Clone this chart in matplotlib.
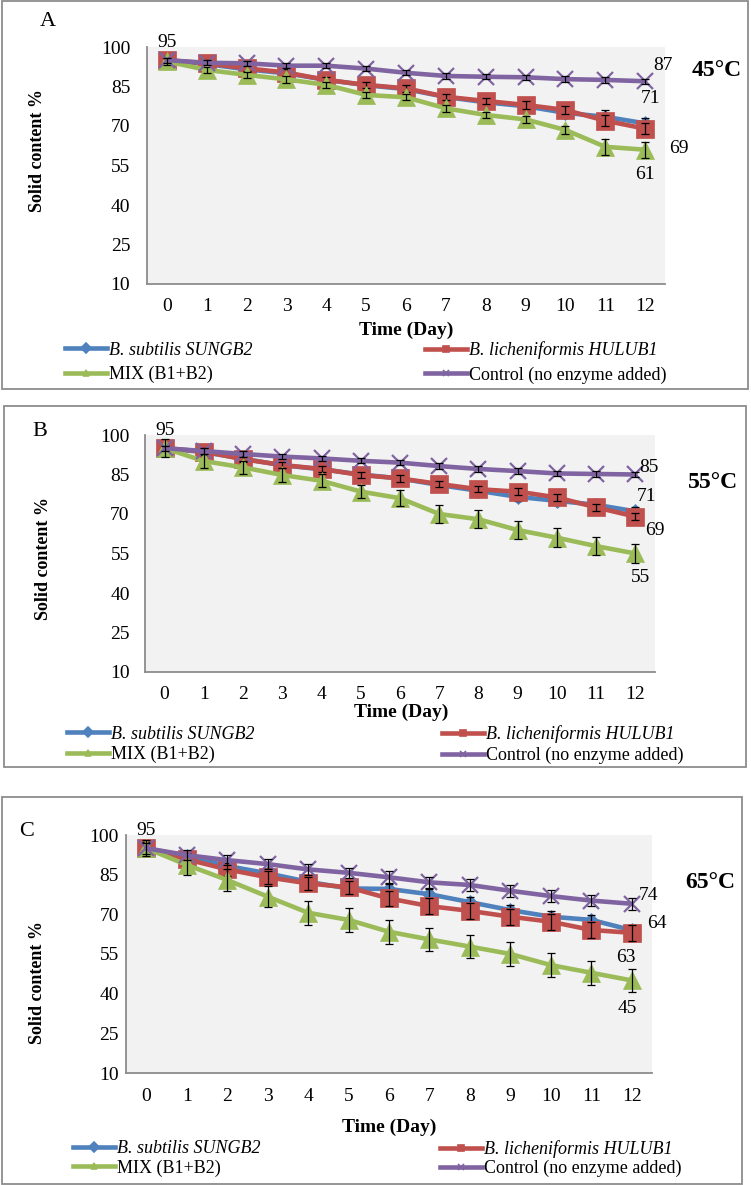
import matplotlib
matplotlib.use('Agg')
import matplotlib.pyplot as plt
from matplotlib.lines import Line2D
from matplotlib.patches import Rectangle

plt.rcParams['font.family'] = ['Liberation Serif', 'DejaVu Serif']

# ---- data ----
days = [0, 1, 2, 3, 4, 5, 6, 7, 8, 9, 10, 11, 12]
day_labels = [str(d) for d in days]
yticks = [10, 25, 40, 55, 70, 85, 100]
names = ['B. subtilis SUNGB2', 'B. licheniformis HULUB1', 'MIX (B1+B2)', 'Control (no enzyme added)']
temps = ['45°C', '55°C', '65°C']
letters = ['A', 'B', 'C']

subtilis_45 = [95, 93.5, 91.5, 90, 87.5, 85.5, 84, 81, 79, 77.5, 75, 73.5, 71]
lichen_45 = [95, 93.8, 91.9, 90.3, 87.5, 85.6, 84.3, 81.1, 79.5, 78, 76.1, 72, 69]
mix_45 = [94.5, 91.3, 89.4, 87.7, 85.6, 81.8, 80.9, 76.7, 74.2, 72.5, 68.5, 62.1, 61]
control_45 = [95, 94, 93.8, 92.9, 92.9, 91.8, 90.2, 89, 88.7, 88.5, 87.8, 87.5, 87]

subtilis_55 = [95, 93.5, 91, 88.5, 87, 85, 83.5, 81, 78.8, 76.5, 75, 73.5, 71]
lichen_55 = [95, 93.7, 90.8, 88.6, 87.1, 84.8, 83.5, 81.4, 79.4, 78.5, 76.3, 72.5, 69]
mix_55 = [95, 90.1, 87.7, 84.8, 82.6, 78.5, 76, 70, 68, 63.9, 61, 57.8, 55]
control_55 = [95, 93.9, 92.8, 91.8, 91.1, 90.2, 89.5, 88.2, 87.1, 86.3, 85.4, 85.2, 85]

subtilis_65 = [95, 92, 88.3, 85.5, 82.3, 79.8, 79.6, 77.6, 74.6, 71.6, 69.1, 67.9, 64]
lichen_65 = [95, 90.8, 87, 84, 81.7, 80.2, 76, 73.1, 71.3, 69.1, 67.2, 64.1, 63]
mix_65 = [95, 88.7, 83, 76.7, 70.6, 67.9, 63.4, 60.5, 57.8, 55, 50.8, 47.9, 45]
control_65 = [95, 92.4, 90.5, 89, 87, 85.7, 84, 82.1, 81.1, 78.9, 76.9, 75.2, 74]

err_subtilis_45 = [1.5, 1.2, 1.2, 1.2, 1.2, 1.2, 1.2, 1.5, 1.5, 1.5, 2, 2.5, 2]
err_lichen_45 = [1.5, 1.2, 1.2, 1.2, 1.2, 1.2, 1.2, 1.2, 1.2, 1.5, 1.5, 2, 2]
err_mix_45 = [1.5, 1.2, 1.2, 1.2, 1.2, 1.2, 1.2, 1.2, 1.2, 1.2, 1.5, 3, 3]
err_control_45 = [1, 1, 1, 1, 1, 1, 1, 1, 1, 1, 1, 1, 1]

err_subtilis_55 = [1.5, 1.5, 1.5, 1.5, 1.5, 1.5, 1.5, 1.5, 1.5, 1.5, 1.5, 1.5, 1.5]
err_lichen_55 = [1.2, 1.2, 1.2, 1.2, 1.2, 1.2, 1.2, 1.2, 1.2, 1.2, 1.2, 1.2, 1.2]
err_mix_55 = [3.5, 2.5, 2.5, 2.5, 2.5, 2.5, 3, 3.5, 3.5, 3.5, 3.5, 3.5, 3.5]
err_control_55 = [1, 1, 1, 1, 1, 1, 1, 1, 1, 1, 1, 1, 1]

err_subtilis_65 = [2, 2, 2, 2, 2, 2, 2, 2, 2, 2, 2, 2, 2]
err_lichen_65 = [2.5, 2.5, 2.5, 2.5, 2.5, 2.5, 3, 3, 3, 3, 3, 3, 3]
err_mix_65 = [3, 4, 4, 4, 4.5, 4.5, 4.5, 4.5, 4.5, 4.5, 4.5, 4.5, 4.2]
err_control_65 = [2, 2, 2, 2, 2, 2, 2.2, 2.2, 2.2, 2.2, 2.2, 2.2, 2.2]

colors = ['#4F81BD', '#C0504D', '#9BBB59', '#8064A2']
markers = ['D', 's', '^', 'x']
msizes = [7, 12.5, 13, 11]

W, H = 751, 1185
fig = plt.figure(figsize=(W / 100, H / 100), dpi=100)


def fx(px):
    return px / W


def fy(py):
    return 1 - py / H


# layout per panel in pixel coords
panels = [
    dict(series=[subtilis_45, lichen_45, mix_45, control_45],
         errs=[err_subtilis_45, err_lichen_45, err_mix_45, err_control_45],
         plot=(147, 47, 665, 284), frame=(2, 1, 748, 389), letter=(48, 22),
         temp=(717, 70), ylab=(37, 150), xlab=(406, 330), ypad=12, xpad=10,
         leg_rows=(349, 376), leg_cols=(65, 425), labspace=0.4,
         offs=[(4, 18), (24, -14), (0, -18), (13, 11)], first=1),
    dict(series=[subtilis_55, lichen_55, mix_55, control_55],
         errs=[err_subtilis_55, err_lichen_55, err_mix_55, err_control_55],
         plot=(145, 435, 655, 672), frame=(4, 406, 746, 767), letter=(40, 432),
         temp=(713, 483), ylab=(43, 558), xlab=(401, 712), ypad=11, xpad=10,
         leg_rows=(733, 756), leg_cols=(67, 442), labspace=0.2,
         offs=[(8, 11), (14, -10), (4, -17), (10, 5)], first=1),
    dict(series=[subtilis_65, lichen_65, mix_65, control_65],
         errs=[err_subtilis_65, err_lichen_65, err_mix_65, err_control_65],
         plot=(126, 835, 652, 1073), frame=(2, 797, 742, 1184), letter=(27, 832),
         temp=(710, 882), ylab=(38, 982), xlab=(389, 1127), ypad=5, xpad=11,
         leg_rows=(1147, 1170), leg_cols=(73, 440), labspace=0.1,
         offs=[(18, 5), (-4, -18), (-3, -20), (12, 6)], first=1),
]

for k, p in enumerate(panels):
    l, t, r, b = p['plot']
    ax = fig.add_axes([fx(l), fy(b), (r - l) / W, (b - t) / H])
    ax.set_facecolor('#F2F2F2')

    for i in range(4):
        ax.errorbar(days, p['series'][i], yerr=p['errs'][i], fmt='none',
                    ecolor='black', elinewidth=0.9, capsize=3.2, capthick=0.9,
                    zorder=5 + i * 2 + 1)
        ax.plot(days, p['series'][i], color=colors[i], lw=3.3, marker=markers[i],
                markersize=msizes[i], markeredgewidth=1.6 if markers[i] == 'x' else 0.5,
                markeredgecolor=colors[i], zorder=5 + i * 2)

    # value labels at start and end
    first_s = p['series'][p['first']]
    ax.annotate(f"{first_s[0]:.0f}", xy=(0, first_s[0]), xytext=(0, 13),
                textcoords='offset points', ha='center', va='center', fontsize=14, zorder=20)
    for i in range(4):
        v = p['series'][i][-1]
        ax.annotate(f"{v:.0f}", xy=(12, v), xytext=p['offs'][i],
                    textcoords='offset points', ha='center', va='center', fontsize=14, zorder=20)

    ax.set_xlim(-0.5, 12.5)
    ax.set_ylim(10, 100)
    ax.set_xticks(days)
    ax.set_xticklabels(day_labels)
    ax.set_yticks(yticks)
    ax.tick_params(axis='both', length=0, labelsize=14)
    ax.tick_params(axis='y', pad=p['ypad'])
    ax.tick_params(axis='x', pad=p['xpad'])
    for s in ['top', 'right']:
        ax.spines[s].set_visible(False)
    for s in ['left', 'bottom']:
        ax.spines[s].set_color('#8C8C8C')
        ax.spines[s].set_linewidth(1.3)

    fig.text(fx(p['ylab'][0]), fy(p['ylab'][1]), 'Solid content %', rotation=90,
             ha='center', va='center', fontsize=13, fontweight='bold')
    fig.text(fx(p['xlab'][0]), fy(p['xlab'][1]), 'Time (Day)', ha='center', va='center',
             fontsize=14, fontweight='bold')
    fig.text(fx(p['letter'][0]), fy(p['letter'][1]), letters[k], ha='center', va='center',
             fontsize=16)
    fig.text(fx(p['temp'][0]), fy(p['temp'][1]), temps[k], ha='center', va='center',
             fontsize=17, fontweight='bold')

    # legend, two columns
    handles = [Line2D([], [], color=colors[i], lw=3.3, marker=markers[i],
                      markersize=5, markeredgewidth=1.2) for i in range(4)]
    ymid = fy((p['leg_rows'][0] + p['leg_rows'][1]) / 2)
    for c, idx in enumerate([(0, 2), (1, 3)]):
        leg = fig.legend([handles[j] for j in idx], [names[j] for j in idx],
                         loc='center left', bbox_to_anchor=(fx(p['leg_cols'][c]), ymid),
                         frameon=False, fontsize=13, handlelength=2.3, handletextpad=0.15,
                         borderpad=0, borderaxespad=0, labelspacing=p['labspace'])
        leg.get_texts()[0].set_fontstyle('italic')

    fl, ft, fr, fb = p['frame']
    fig.patches.append(Rectangle((fx(fl), fy(fb)), (fr - fl) / W, (fb - ft) / H,
                                 transform=fig.transFigure, fill=False,
                                 edgecolor='#8C8C8C', lw=1.3))

fig.savefig('out.png', dpi=100)
